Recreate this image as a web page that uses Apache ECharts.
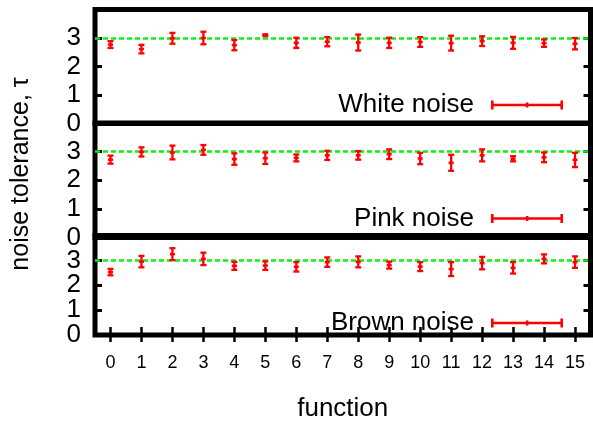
<!DOCTYPE html>
<html>
<head>
<meta charset="utf-8">
<script src="https://cdn.jsdelivr.net/npm/echarts@6/dist/echarts.min.js"></script>
<style>html,body{margin:0;padding:0;background:#fff;}#c{width:593px;height:423px;}</style>
</head>
<body>
<div id="c"></div>
<script>
const categories = ['0','1','2','3','4','5','6','7','8','9','10','11','12','13','14','15'];
const seriesNames = ['White noise', 'Pink noise', 'Brown noise'];
const whiteMean = [2.77, 2.61, 2.99, 3.00, 2.75, 3.10, 2.83, 2.87, 2.84, 2.83, 2.86, 2.82, 2.89, 2.83, 2.82, 2.80];
const whiteErr  = [0.12, 0.15, 0.19, 0.22, 0.18, 0.03, 0.18, 0.16, 0.28, 0.18, 0.17, 0.26, 0.17, 0.21, 0.13, 0.20];
const pinkMean  = [2.72, 2.99, 2.97, 3.06, 2.74, 2.77, 2.78, 2.87, 2.87, 2.91, 2.76, 2.61, 2.87, 2.75, 2.80, 2.71];
const pinkErr   = [0.14, 0.16, 0.24, 0.17, 0.20, 0.20, 0.12, 0.16, 0.15, 0.17, 0.20, 0.28, 0.21, 0.09, 0.17, 0.25];
const brownMean = [2.53, 2.95, 3.25, 3.06, 2.78, 2.79, 2.74, 2.93, 2.94, 2.81, 2.75, 2.65, 2.89, 2.70, 3.06, 2.93];
const brownErr  = [0.13, 0.23, 0.24, 0.25, 0.16, 0.17, 0.19, 0.19, 0.22, 0.14, 0.18, 0.28, 0.25, 0.23, 0.18, 0.23];
const referenceTau = 3;
const yTicks = [0, 1, 2, 3, 4];
const xTitle = 'function';
const yTitle = 'noise tolerance, \u03c4';

const FONT = "'Liberation Sans', Arial, Helvetica, sans-serif";
const means = [whiteMean, pinkMean, brownMean];
const errs = [whiteErr, pinkErr, brownErr];
const grids = [
  {left: 95, top: 9.5, width: 495.5, height: 114},
  {left: 95, top: 123, width: 495.5, height: 114.5},
  {left: 95, top: 235.5, width: 495.5, height: 108}
];
const legendTops = [92, 205.5, 310];
const yMin = yTicks[0], yMax = yTicks[yTicks.length - 1];

function renderErr(params, api) {
  const x = api.value(0), m = api.value(1), e = api.value(2);
  const c = api.coord([x, m]);
  const hi = api.coord([x, m + e]);
  const lo = api.coord([x, m - e]);
  const cap = 3;
  const st = {stroke: '#ff0000', lineWidth: 2.3};
  return {type: 'group', children: [
    {type: 'line', shape: {x1: c[0], y1: hi[1], x2: c[0], y2: lo[1]}, style: st},
    {type: 'line', shape: {x1: c[0] - cap, y1: hi[1], x2: c[0] + cap, y2: hi[1]}, style: st},
    {type: 'line', shape: {x1: c[0] - cap, y1: lo[1], x2: c[0] + cap, y2: lo[1]}, style: st},
    {type: 'line', shape: {x1: c[0] - 2.5, y1: c[1], x2: c[0] + 2.5, y2: c[1]}, style: {stroke: '#ff0000', lineWidth: 2.6}}
  ]};
}

const yLabelStyle = {fontSize: 26, fontFamily: FONT, color: '#000', margin: 14, hideOverlap: false};
const xAxes = [], yAxes = [], series = [], legends = [];
grids.forEach((g, i) => {
  const last = i === grids.length - 1;
  xAxes.push({
    type: 'category', gridIndex: i, data: categories, boundaryGap: true,
    axisLine: {show: false},
    axisTick: {show: last, inside: true, alignWithLabel: true, length: 8, lineStyle: {color: '#000', width: 2.5}},
    axisLabel: {show: last, fontSize: 18, fontFamily: FONT, color: '#000', margin: 19, showMinLabel: true, showMaxLabel: true},
    splitLine: {show: false},
    name: last ? xTitle : '', nameLocation: 'middle', nameGap: 61,
    nameTextStyle: {fontSize: 26, fontFamily: FONT, color: '#000'}
  });
  if (last) {
    xAxes.push({
      type: 'category', gridIndex: i, data: categories, boundaryGap: true, position: 'top',
      axisLine: {show: false},
      axisTick: {show: true, inside: true, alignWithLabel: true, length: 7, lineStyle: {color: '#000', width: 2.5}},
      axisLabel: {show: false}, splitLine: {show: false}
    });
  }
  const yBase = {
    type: 'value', gridIndex: i, min: yMin, max: yMax, interval: 1,
    axisLine: {show: false}, splitLine: {show: false},
    axisTick: {show: true, inside: true, length: 7, lineStyle: {color: '#000', width: 3}}
  };
  const mainIdx = yAxes.length;
  // left axis: ticks + labels 1..3
  yAxes.push(Object.assign({}, yBase, {
    position: 'left',
    axisLabel: Object.assign({}, yLabelStyle, {showMinLabel: false, showMaxLabel: false,
      formatter: v => (v === yMin || v === yMax ? '' : String(v))})
  }));
  // right mirror ticks
  yAxes.push(Object.assign({}, yBase, {position: 'right', axisLabel: {show: false}}));
  // left axis: label for 0 only
  yAxes.push(Object.assign({}, yBase, {
    position: 'left', axisTick: {show: false},
    axisLabel: Object.assign({}, yLabelStyle, {showMinLabel: true, showMaxLabel: false,
      formatter: v => (v === yMin ? String(v) : '')})
  }));
  series.push({
    type: 'custom', name: seriesNames[i], xAxisIndex: i, yAxisIndex: mainIdx,
    renderItem: renderErr, encode: {x: 0, y: 1},
    itemStyle: {color: '#ff0000'},
    data: categories.map((c, k) => [k, means[i][k], errs[i][k]]),
    z: 3,
    markLine: {
      silent: true, symbol: ['none', 'none'], label: {show: false},
      lineStyle: {color: '#11ee11', type: [5, 3], width: 2.5},
      data: [{yAxis: referenceTau}], z: 2, animation: false
    }
  });
  legends.push({
    data: [seriesNames[i]], right: 30, top: legendTops[i], padding: 0, align: 'right',
    orient: 'horizontal', selectedMode: false, itemWidth: 72, itemHeight: 9,
    icon: 'path://M0,0H2.6V9H0Z M69.4,0H72V9H69.4Z M0,3.2H72V5.8H0Z M34.8,2H37.4V7H34.8Z',
    itemStyle: {color: '#ff0000', borderWidth: 0},
    textStyle: {fontSize: 26, fontFamily: FONT, color: '#000', padding: [0, 12, 0, 0]}
  });
});

const chart = echarts.init(document.getElementById('c'), null, {renderer: 'canvas'});
chart.setOption({
  animation: false,
  backgroundColor: '#fff',
  grid: grids.map(g => Object.assign({show: true, borderColor: '#000', borderWidth: 5, backgroundColor: 'transparent', containLabel: false}, g)),
  xAxis: xAxes,
  yAxis: yAxes,
  legend: legends,
  series: series,
  graphic: [{
    type: 'text', x: 21, y: 174, rotation: Math.PI / 2,
    style: {text: yTitle, font: '25px ' + FONT, fill: '#000', textAlign: 'center', textVerticalAlign: 'middle'}
  }]
});
</script>
</body>
</html>
